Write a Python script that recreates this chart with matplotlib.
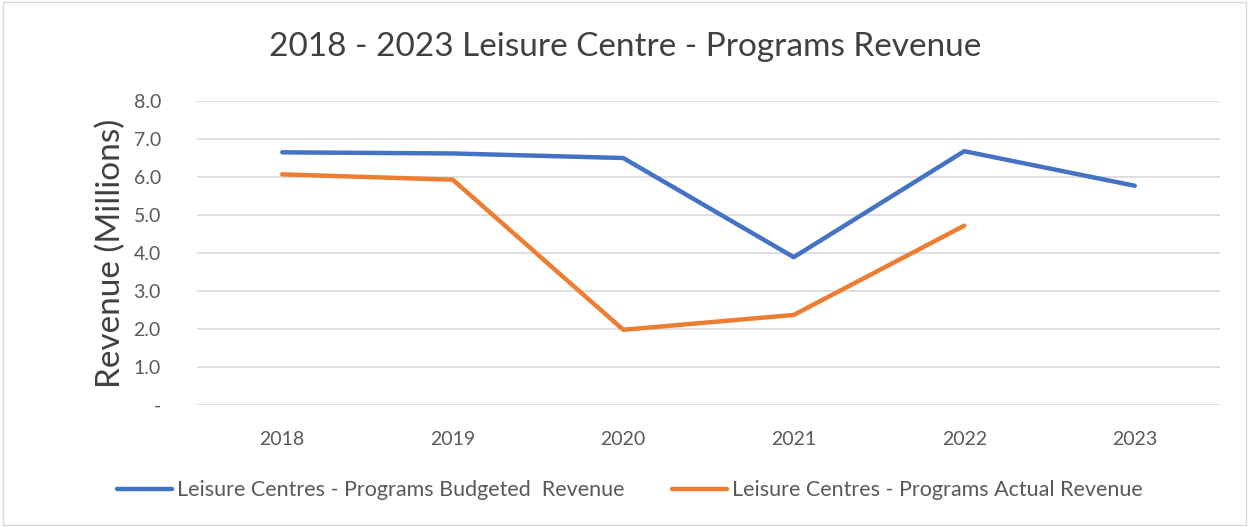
import matplotlib

matplotlib.use("Agg")
import matplotlib.pyplot as plt
from matplotlib.patches import Rectangle
from matplotlib.ticker import FixedLocator

years = ["2018", "2019", "2020", "2021", "2022", "2023"]
budgeted = [6.65, 6.62, 6.50, 3.89, 6.68, 5.77]
actual = [6.07, 5.93, 1.98, 2.37, 4.72]
y_ticks = [0, 1, 2, 3, 4, 5, 6, 7, 8]
y_tick_labels = ["-", "1.0", "2.0", "3.0", "4.0", "5.0", "6.0", "7.0", "8.0"]

plt.rcParams["font.family"] = ["Lato", "DejaVu Sans"]

BLUE = "#4472C4"
ORANGE = "#ED7D31"
TEXT = "#595959"

fig = plt.figure(figsize=(12.5, 5.27), dpi=100)
ax = fig.add_axes([0.1576, 0.2315, 0.8184, 0.5768])

x = list(range(len(years)))
ax.plot(x, budgeted, color=BLUE, linewidth=3.2, solid_capstyle="round",
        solid_joinstyle="round", label="Leisure Centres - Programs Budgeted  Revenue")
ax.plot(x[: len(actual)], actual, color=ORANGE, linewidth=3.2, solid_capstyle="round",
        solid_joinstyle="round", label="Leisure Centres - Programs Actual Revenue")

ax.set_xlim(-0.5, len(years) - 0.5)
ax.set_ylim(0, 8)
ax.set_xticks(x)
ax.set_xticklabels(years)
ax.yaxis.set_major_locator(FixedLocator(y_ticks))
ax.set_yticklabels(y_tick_labels)
ax.tick_params(axis="both", length=0, labelsize=14, colors=TEXT)
ax.tick_params(axis="y", pad=26)
ax.tick_params(axis="x", pad=19)
ax.grid(axis="y", color="#D9D9D9", linewidth=1.2)
ax.set_axisbelow(True)
for spine in ax.spines.values():
    spine.set_visible(False)

ax.set_ylabel("Revenue (Millions)", fontsize=24, color="#404040", labelpad=5)

fig.text(0.5, 0.91, "2018 - 2023 Leisure Centre - Programs Revenue",
         ha="center", va="center", fontsize=24, color="#404040")

fig.legend(loc="center", bbox_to_anchor=(0.504, 0.07), ncol=2, frameon=False,
           fontsize=15.5, handlelength=2.55, handletextpad=0.25, columnspacing=2.2,
           labelcolor=TEXT)

fig.add_artist(Rectangle((0.002, 0.003), 0.995, 0.993, transform=fig.transFigure,
                         fill=False, edgecolor="#D9D9D9", linewidth=1.0))

fig.savefig("out.png", dpi=100)
plt.close(fig)
